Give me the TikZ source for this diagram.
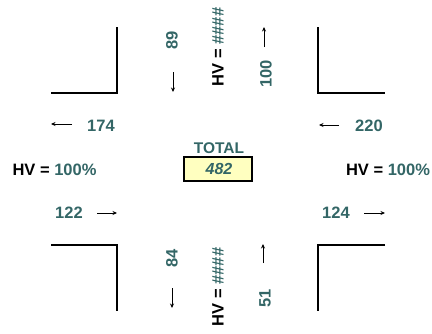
\documentclass[tikz,border=0pt]{standalone}
\usepackage{fontspec}
\setmainfont{Liberation Sans}
\usetikzlibrary{arrows.meta}
\definecolor{teal1}{RGB}{51,102,102}
\definecolor{boxfill}{RGB}{255,255,192}
\begin{document}
\begin{tikzpicture}[x=1pt,y=-1pt,
  curb/.style={line width=1.5pt,line join=miter},
  flow/.style={line width=1pt,-{Stealth[length=4.5pt,width=4pt]}},
  vol/.style={font=\fontsize{16.5}{16.5}\selectfont\bfseries,text=teal1,inner sep=0pt},
  hv/.style={font=\fontsize{16.5}{16.5}\selectfont\bfseries,inner sep=0pt},
  totbox/.style={draw=black,line width=1.3pt,fill=boxfill,minimum width=68pt,minimum height=24pt,inner sep=0pt}]
\useasboundingbox (0,0) rectangle (432,333);
% curbs
\draw[curb] (117,27) -- (117,93) -- (51,93);
\draw[curb] (318,27) -- (318,93) -- (385,93);
\draw[curb] (51,245) -- (117,245) -- (117,311);
\draw[curb] (385,245) -- (318,245) -- (318,311);
% north
\node[vol,rotate=90] (n89) at (172,40) {89};
\coordinate (na1) at (173,72); \coordinate (na2) at (173,92);
\draw[flow] (na1) -- (na2);
\node[hv,rotate=90] (nhv) at (218,47) {HV = \textcolor{teal1}{\#\#\#\#}};
\coordinate (nb1) at (264,47); \coordinate (nb2) at (264,27);
\draw[flow] (nb1) -- (nb2);
\node[vol,rotate=90] (n100) at (266,74) {100};
% south
\node[vol,rotate=90] (s84) at (172,258) {84};
\coordinate (sa1) at (172,288); \coordinate (sa2) at (172,308);
\draw[flow] (sa1) -- (sa2);
\node[hv,rotate=90] (shv) at (218,287) {HV = \textcolor{teal1}{\#\#\#\#}};
\coordinate (sb1) at (263,263); \coordinate (sb2) at (263,244);
\draw[flow] (sb1) -- (sb2);
\node[vol,rotate=90] (s51) at (265,298) {51};
% west
\coordinate (wa1) at (72,124); \coordinate (wa2) at (51,124);
\draw[flow] (wa1) -- (wa2);
\node[vol] (w174) at (101,126) {174};
\node[hv] (whv) at (54.5,170) {HV = \textcolor{teal1}{100\%}};
\node[vol] (w122) at (69,213) {122};
\coordinate (wb1) at (97,213); \coordinate (wb2) at (117,213);
\draw[flow] (wb1) -- (wb2);
% east
\coordinate (ea1) at (339,125); \coordinate (ea2) at (319,125);
\draw[flow] (ea1) -- (ea2);
\node[vol] (e220) at (369,126) {220};
\node[hv] (ehv) at (388,170) {HV = \textcolor{teal1}{100\%}};
\node[vol] (e124) at (336,213) {124};
\coordinate (eb1) at (364,213); \coordinate (eb2) at (385,213);
\draw[flow] (eb1) -- (eb2);
% total
\node[vol,font=\fontsize{15.5}{15.5}\selectfont\bfseries] (tot) at (219,148) {TOTAL};
\node[totbox] (box) at (218,169) {};
\node[vol,font=\fontsize{16}{16}\selectfont\bfseries\itshape] (val) at (219,169) {482};
\end{tikzpicture}
\end{document}
